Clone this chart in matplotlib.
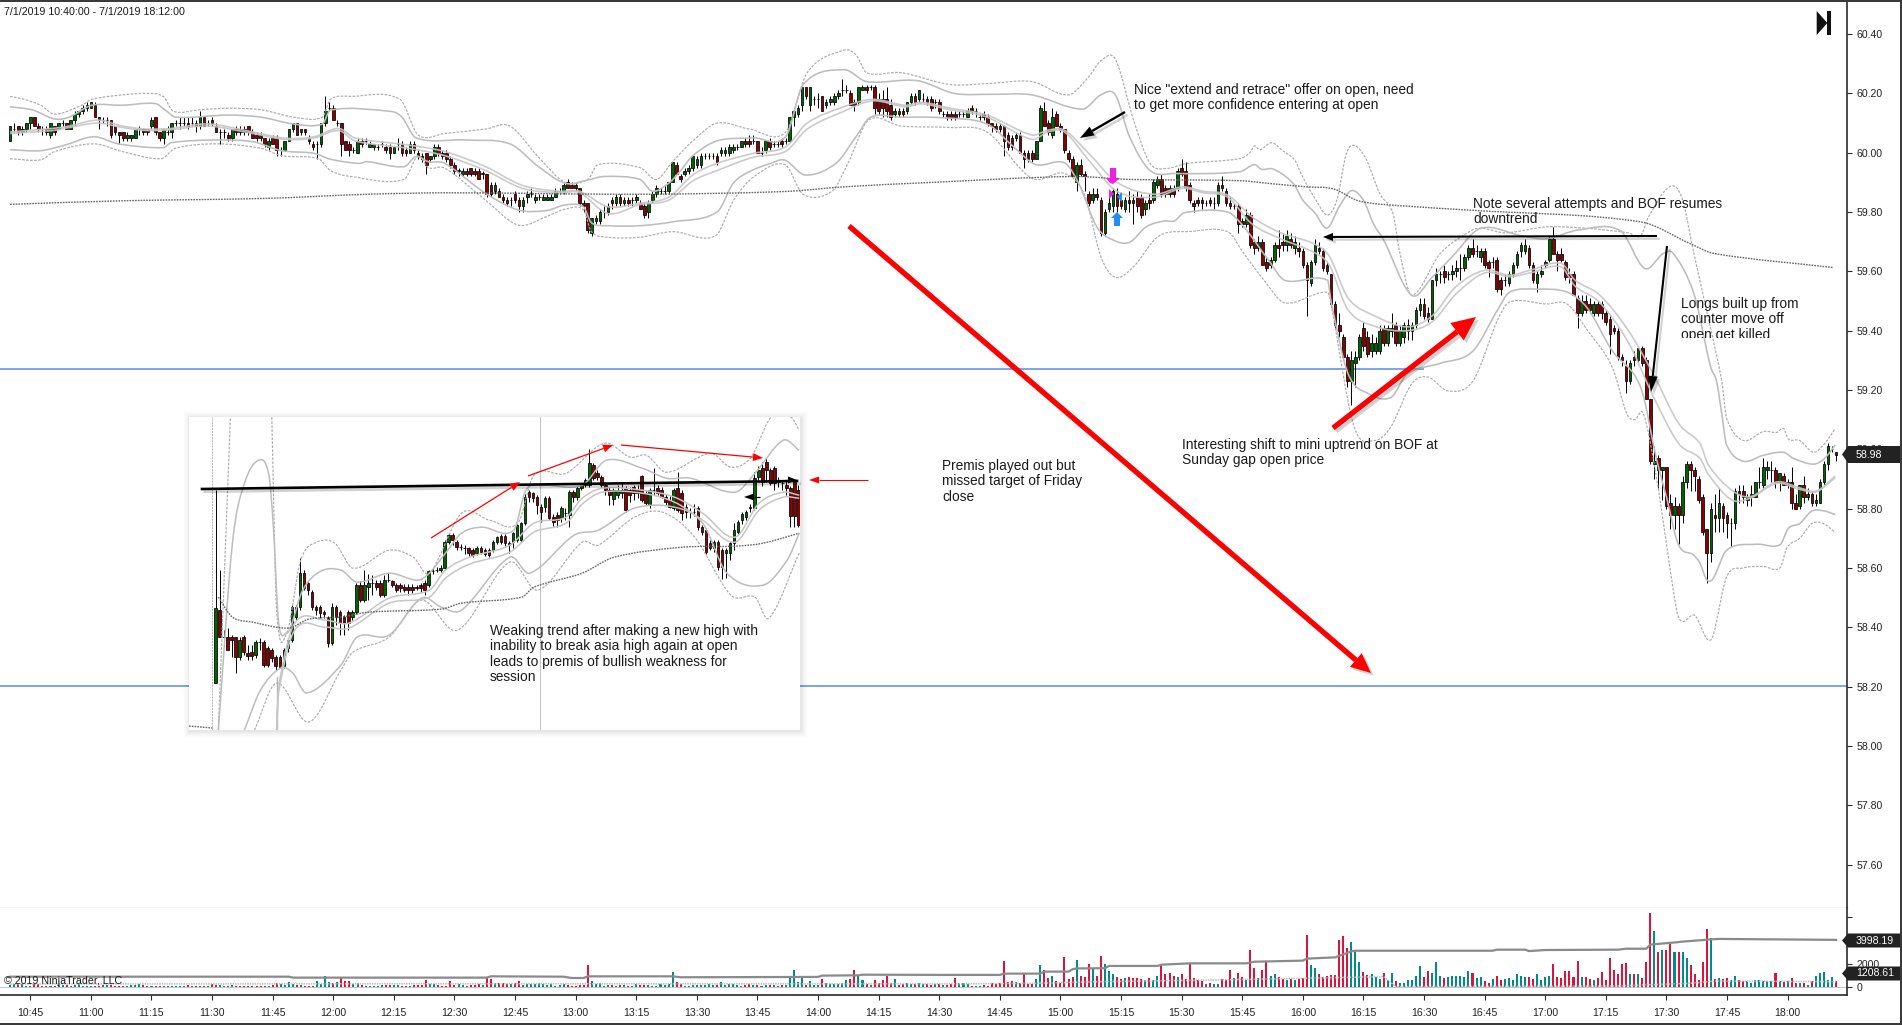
import matplotlib
matplotlib.use('Agg')
import matplotlib.pyplot as plt
import matplotlib.patheffects as pe
from matplotlib.patches import Polygon, Rectangle, PathPatch
from matplotlib.path import Path
from matplotlib.transforms import Bbox

plt.rcParams['font.family'] = ['Liberation Sans', 'DejaVu Sans']

W, H = 1902, 1025

# ---- one-minute bars, prices in cents ----
opens = [6004,6008,6009,6007,6008,6010,6012,6009,6008,6008,
6006,6009,6008,6010,6010,6008,6011,6013,6014,6015,
6015,6016,6012,6011,6011,6011,6009,6007,6007,6005,
6005,6005,6008,6008,6008,6009,6012,6007,6005,6007,
6007,6010,6010,6010,6010,6010,6010,6009,6012,6010,
6011,6009,6007,6007,6006,6005,6008,6008,6008,6009,
6007,6006,6006,6005,6002,6005,6005,6001,6001,6004,
6008,6010,6007,6008,6005,6003,6003,6003,6010,6015,
6015,6010,6010,6004,6003,6001,6000,6004,6004,6002,
6002,6002,6003,6002,6002,6000,6003,6003,6001,6000,
6003,6000,5999,6000,5998,5999,6002,6000,6000,5998,
5996,5994,5993,5994,5995,5994,5994,5993,5993,5989,
5987,5987,5985,5984,5984,5986,5984,5982,5985,5986,
5984,5985,5984,5984,5984,5985,5987,5987,5990,5989,
5989,5988,5983,5983,5973,5977,5977,5980,5980,5984,
5983,5985,5983,5984,5984,5984,5983,5982,5980,5984,
5986,5987,5987,5987,5990,5996,5992,5993,5994,5995,
5996,5996,5999,5999,5999,5999,6000,6000,6000,6001,
6002,6002,6004,6004,6004,
6004,6000,6001,6004,6003,6003,
6004,6004,6004,6012,6013,6016,6022,6016,6018,6018,
6019,6016,6017,6017,6019,6021,6021,6020,6017,6017,
6021,6022,6022,6022,6018,6018,6018,6016,6013,6014,
6014,6014,6017,6019,6018,6018,6018,6018,6017,6017,
6013,6013,6013,6013,6013,6013,6012,6015,6014,6012,
6013,6012,6010,6009,6009,6009,6006,6005,6005,6006,
6000,6000,6000,5998,6004,6014,6010,6006,6013,6009,
6008,6000,5998,5990,5996,5993,5986,5984,5986,5984,
5973,5981,5982,5986,5984,5981,5984,5984,5985,5985,
5981,5984,5984,5989,5991,5988,5988,5988,5988,5995,
5994,5989,5983,5984,5984,5983,5984,5983,5983,5989,
5987,5983,5982,5982,5977,5976,5979,5970,5968,5970,
5963,5962,5964,5969,5970,5969,5971,5968,5968,
5967,5962,5956,5963,5968,5967,5962,5959,5949,5942,
5938,5931,5923,5929,5931,5941,5938,5933,5933,5933,
5941,5936,5940,5942,5936,5938,5940,5940,5942,5947,
5949,5946,5944,5957,5959,5960,5959,5959,5960,5961,
5961,5965,5968,5967,5965,5967,5963,5963,5964,5957,
5957,5956,5959,5962,5967,5967,5968,5962,5956,5959,
5962,5964,5971,5966,5966,5963,5959,5959,5951,5946,
5950,5949,5946,5949,5949,5946,5944,5941,5940,5931,
5928,5923,5931,5930,5934,5930,
5917,5895,5897,5893,
5894,5882,5878,5881,5878,5889,5895,5893,5890,5884,
5873,5865,5878,5877,5881,5878,5875,5875,5886,5886,
5883,5884,5884,5889,5888,5893,5893,5893,5889,5891,
5888,5889,5882,5881,5888,5884,5885,5882,5882,5889,
5895,5900,5899]
closes = [6009,6008,6007,6008,6010,6012,6009,6008,6008,6007,
6010,6007,6010,6010,6008,6011,6013,6014,6015,6016,
6017,6012,6011,6011,6011,6006,6007,6006,6005,6006,
6006,6008,6008,6007,6007,6011,6007,6005,6008,6007,
6010,6010,6010,6010,6009,6010,6009,6012,6009,6010,
6010,6007,6007,6007,6005,6008,6007,6007,6007,6007,
6005,6005,6005,6003,6004,6003,6001,6001,6004,6008,
6010,6006,6008,6007,6004,6002,6003,6010,6014,6015,
6011,6010,6003,6001,6001,6001,6004,6003,6004,6003,
6003,6002,6003,6001,6000,6002,6003,6000,6000,6003,
6001,5999,5998,5996,5999,6002,6000,5999,5998,5996,
5994,5994,5994,5993,5993,5993,5991,5993,5986,5986,
5989,5985,5984,5983,5984,5984,5982,5984,5986,5986,
5985,5985,5985,5985,5985,5987,5987,5989,5988,5988,
5988,5983,5982,5974,5978,5978,5980,5980,5982,5983,
5985,5983,5984,5983,5984,5985,5981,5979,5983,5986,
5988,5987,5987,5990,5997,5993,5991,5994,5995,5999,
5998,5999,5999,5999,5999,5997,6001,6001,6002,6002,
6002,6004,6003,6003,6004,
6000,6000,6004,6002,6003,6003,
6003,6004,6012,6014,6015,6022,6019,6022,6018,6018,
6014,6017,6018,6019,6020,6021,6021,6016,6016,6022,
6022,6021,6022,6015,6014,6015,6014,6012,6014,6013,
6013,6017,6019,6017,6021,6018,6017,6015,6017,6014,
6013,6012,6012,6012,6013,6013,6014,6014,6014,6012,
6012,6010,6009,6008,6008,6004,6002,6002,6006,6000,
5998,5998,5998,6004,6015,6009,6007,6012,6009,6008,
6001,5998,5992,5996,5993,5992,5983,5986,5985,5973,
5980,5983,5987,5982,5982,5984,5983,5983,5982,5979,
5983,5983,5990,5991,5986,5986,5986,5986,5994,5993,
5988,5984,5982,5983,5983,5983,5983,5983,5989,5988,
5983,5982,5982,5976,5976,5979,5969,5968,5970,5962,
5961,5964,5969,5968,5969,5972,5969,5970,5967,
5962,5957,5963,5969,5967,5961,5960,5949,5942,5940,
5931,5923,5930,5931,5938,5935,5932,5936,5936,5940,
5936,5941,5941,5936,5940,5942,5942,5942,5947,5949,
5945,5944,5957,5959,5959,5958,5959,5960,5961,5961,
5965,5968,5966,5967,5967,5962,5961,5963,5954,5954,
5957,5959,5962,5966,5969,5969,5962,5957,5959,5960,
5963,5971,5966,5964,5964,5958,5958,5952,5946,5950,
5947,5947,5949,5946,5946,5943,5939,5940,5931,5930,
5923,5929,5930,5934,5929,5917,
5896,5896,5893,5894,
5881,5878,5881,5878,5889,5895,5893,5891,5883,5872,
5865,5880,5877,5882,5877,5875,5875,5886,5885,5884,
5884,5885,5889,5889,5894,5894,5893,5889,5892,5888,
5889,5882,5880,5888,5884,5885,5882,5883,5889,5895,
5901,5900,5898]
highs = [6009,6010,6009,6009,6010,6012,6012,6010,6009,6009,
6010,6009,6010,6011,6010,6011,6014,6014,6016,6017,
6017,6017,6012,6012,6012,6011,6009,6007,6007,6007,
6006,6008,6009,6008,6008,6012,6012,6007,6008,6009,
6010,6011,6012,6012,6012,6012,6011,6014,6012,6011,
6012,6010,6008,6008,6007,6008,6009,6009,6009,6009,
6008,6007,6007,6005,6005,6006,6006,6002,6004,6008,
6010,6010,6008,6008,6006,6004,6004,6010,6019,6017,
6016,6011,6010,6004,6004,6002,6005,6005,6005,6004,
6003,6003,6004,6003,6003,6002,6005,6004,6002,6004,
6004,6001,6000,6000,5999,6003,6003,6001,6001,5999,
5997,5995,5995,5995,5995,5995,5995,5994,5993,5990,
5990,5988,5986,5985,5985,5987,5985,5985,5987,5988,
5986,5986,5986,5986,5986,5988,5988,5990,5991,5990,
5990,5988,5984,5983,5978,5979,5981,5982,5983,5985,
5986,5986,5985,5985,5985,5986,5984,5983,5984,5987,
5989,5988,5989,5990,5997,5997,5993,5995,5996,5999,
5999,6000,6000,6000,6000,6000,6002,6002,6003,6003,
6003,6004,6005,6006,6006,
6004,6002,6004,6005,6004,6004,
6005,6005,6012,6015,6016,6022,6022,6022,6019,6020,
6019,6018,6019,6020,6021,6025,6023,6021,6018,6022,
6023,6023,6023,6023,6020,6021,6022,6018,6015,6015,
6015,6017,6020,6020,6021,6020,6019,6019,6018,6018,
6014,6014,6014,6014,6014,6014,6015,6016,6015,6013,
6014,6013,6010,6010,6010,6009,6007,6006,6007,6007,
6001,6001,6001,6004,6016,6017,6011,6015,6014,6010,
6008,6001,5999,5997,5998,5994,5987,5988,5988,5985,
5981,5985,5988,5988,5986,5985,5987,5986,5987,5986,
5984,5986,5991,5992,5993,5989,5989,5989,5995,5998,
5997,5990,5984,5985,5985,5984,5985,5985,5990,5992,
5988,5985,5983,5983,5978,5981,5980,5971,5972,5971,
5965,5965,5970,5974,5973,5974,5973,5972,5970,
5968,5963,5964,5971,5970,5968,5963,5959,5950,5946,
5939,5932,5933,5933,5939,5943,5940,5939,5938,5942,
5942,5942,5946,5943,5942,5943,5944,5943,5948,5951,
5951,5948,5957,5961,5960,5962,5960,5962,5964,5966,
5966,5969,5971,5969,5968,5968,5964,5965,5965,5958,
5959,5960,5963,5967,5970,5971,5969,5963,5960,5962,
5964,5972,5975,5967,5968,5964,5961,5960,5952,5952,
5952,5951,5950,5950,5950,5947,5945,5942,5941,5932,
5930,5930,5933,5934,5935,5931,
5917,5901,5898,5894,
5894,5885,5884,5882,5891,5896,5896,5894,5891,5885,
5873,5882,5885,5887,5882,5879,5877,5887,5888,5888,
5885,5888,5889,5894,5897,5896,5896,5894,5892,5892,
5890,5894,5885,5888,5891,5887,5886,5885,5890,5896,
5902,5901,5899]
lows = [6004,6007,6006,6006,6007,6008,6009,6007,6006,6006,
6005,6006,6008,6009,6008,6008,6009,6012,6013,6014,
6015,6012,6008,6010,6009,6005,6006,6003,6004,6004,
6004,6005,6006,6006,6006,6008,6006,6004,6003,6006,
6005,6009,6008,6009,6008,6009,6007,6008,6009,6009,
6009,6007,6003,6005,6004,6004,6006,6006,6006,6006,
6005,6004,6004,6002,6001,6003,5999,5999,6001,6004,
6007,6006,6006,6006,6003,6001,5998,6002,6009,6014,
6011,6009,5999,6001,5999,6000,6000,6002,6003,6002,
6001,6001,6002,6000,5998,6000,6001,5999,5999,6000,
6000,5998,5997,5993,5997,5998,5999,5998,5997,5995,
5993,5992,5992,5992,5992,5992,5991,5991,5985,5985,
5986,5985,5983,5982,5982,5983,5980,5980,5983,5985,
5983,5984,5984,5984,5984,5985,5986,5986,5988,5988,
5987,5982,5980,5973,5972,5976,5976,5978,5979,5981,
5982,5982,5982,5982,5982,5983,5981,5978,5978,5983,
5985,5986,5986,5986,5990,5993,5990,5992,5993,5994,
5995,5995,5998,5998,5998,5996,5999,5999,5999,6000,
6001,6002,6002,6002,6003,
6000,5999,6000,6001,6002,6002,
6002,6003,6004,6009,6012,6014,6018,6014,6016,6015,
6014,6015,6016,6016,6018,6019,6020,6016,6014,6016,
6021,6020,6021,6013,6013,6012,6012,6011,6012,6012,
6012,6013,6016,6016,6017,6017,6016,6014,6015,6013,
6012,6011,6011,6011,6012,6012,6012,6013,6012,6011,
6011,6009,6007,6007,6007,5999,6001,6001,6004,6000,
5995,5997,5997,5998,6004,6009,6006,6005,6009,6007,
6000,5997,5992,5987,5992,5987,5982,5983,5984,5972,
5972,5980,5980,5980,5981,5980,5980,5976,5980,5978,
5979,5981,5983,5988,5985,5985,5985,5985,5987,5992,
5987,5983,5980,5982,5981,5982,5982,5981,5982,5987,
5982,5981,5981,5973,5975,5975,5968,5966,5967,5962,
5960,5961,5963,5965,5967,5967,5968,5966,5965,
5961,5945,5955,5962,5966,5960,5959,5948,5941,5938,
5930,5921,5915,5921,5930,5933,5931,5931,5932,5932,
5935,5935,5938,5935,5935,5936,5937,5937,5941,5945,
5944,5943,5944,5955,5956,5956,5957,5957,5958,5957,
5960,5964,5965,5965,5963,5961,5958,5961,5953,5952,
5955,5955,5958,5961,5965,5966,5961,5956,5953,5958,
5961,5963,5966,5960,5963,5957,5956,5952,5941,5945,
5946,5946,5945,5945,5944,5942,5932,5939,5930,5928,
5919,5922,5928,5929,5928,5917,
5895,5890,5887,5883,
5880,5873,5873,5868,5875,5887,5886,5886,5882,5871,
5855,5862,5872,5872,5872,5870,5867,5873,5882,5882,
5881,5881,5884,5887,5887,5890,5889,5887,5886,5888,
5887,5880,5880,5880,5882,5883,5881,5881,5882,5888,
5893,5899,5896]
volumes = [200,250,300,250,150,100,300,250,120,150,100,120,160,200,220,
140,170,260,150,130,150,120,150,190,200,170,140,120,130,140,
160,180,240,180,120,90,110,140,100,120,140,110,90,110,160,
100,90,130,120,150,300,200,180,130,110,190,100,90,110,130,
120,90,110,150,120,180,340,280,200,450,300,180,160,140,120,
90,520,320,960,480,350,450,850,550,530,300,350,190,120,100,
100,120,170,200,230,210,180,120,110,150,220,200,200,650,300,
250,200,150,130,550,220,300,180,140,200,170,280,200,820,720,
400,350,360,280,300,350,530,230,300,320,280,330,280,210,250,
140,220,280,220,150,90,160,190,1900,520,300,400,150,160,180,
130,170,200,100,90,260,180,200,190,100,150,300,210,240,1300,
430,300,120,150,180,170,210,170,250,200,180,420,180,250,240,
180,130,200,240,200,160,130,160,230,200,120,190,170,960,1470,
450,800,200,540,170,180,700,340,280,300,320,400,620,680,1470,
960,640,250,170,620,380,640,960,400,680,200,280,350,300,280,
350,300,250,200,260,280,220,180,
300,750,400,350,250,150,100,120,200,150,400,300,380,2230,450,
500,480,400,1130,250,300,700,1890,1500,800,950,500,400,2600,700,
900,2300,1000,900,1970,1600,1000,2650,1970,1400,1100,850,700,800,900,
800,750,700,650,800,600,1000,1890,1100,1200,1000,900,1100,700,2030,
800,600,500,300,400,300,300,700,600,1470,800,1200,900,600,3160,
1600,800,1470,2170,1000,1100,900,700,600,700,600,700,800,4430,1900,
1650,1100,900,1000,1050,1050,4000,4340,3300,3835,3000,2170,1300,1050,1100,
900,700,1200,600,1200,500,400,350,600,600,1000,1800,900,1350,1200,
2140,1000,800,900,1000,950,1000,900,1400,1200,800,900,500,400,700,
1000,600,700,800,650,1100,1000,900,850,700,1100,600,900,1000,1970,
850,800,1400,1400,900,2230,900,900,700,600,800,1300,600,2450,1500,
1100,2000,2100,1100,1100,1100,800,2170,6300,4800,3000,3200,3200,3700,2950,
2950,3000,2500,1900,1100,650,2170,4900,4150,700,750,700,800,600,1000,
650,500,500,350,600,650,550,500,500,1200,500,450,500,800,400,350,400,200,500,1000,1200,1300,600,900,500]

# ---- band knots: (bar number, price in cents) ----
up2_x = [0,3.5,7.6,11,17.7,20.2,27.8,33.8,37.9,40.4,47,54,62.1,70.2,77.3,79.3,84.3,96.5,101,107.6,117.7,123.7,130.8,137.4,143,145.5,155.9,160,164,169,175,183,192,197.3,206.4,209.4,212,220.5,232.7,242.8,252.9,262,267,270,273.6,278.1,282.2,286.2,291.3,304.4,306.9,308,309.4,312.3,315,318,319.7,323,326,328.4,330.8,332.9,335.8,339,342.3,343.9,346.9,354,362,364.6,370.2,380.3,390.5,400.6,403.6,405.6,410.7,413.8,416.8,420.9,423.7,424.9,429,434,437.3,439,440.2,443,446.4,449.2,451.8]
up2_y = [6019,6018,6016,6013,6016,6018,6019.5,6020,6019,6014,6014.5,6015,6014.5,6012,6012,6018,6019,6018,6006,6006.5,6008,6009,5998.5,5990,5991,5996,5995,5991,5997,6004,6010,6008,6007,6027,6034.6,6033,6027,6027,6023,6023.4,6024,6019.5,6025.6,6031,6031.5,6011,5996.4,5994.7,5996.4,5998,6000,6002.3,6001,6003.4,6000.7,5997.5,5992.5,5984.6,5979,5984,5999.8,6002.4,5997.5,5986.3,5979.6,5967,5952,5966,5974,5974.5,5973,5975,5974.5,5973,5972,5978.4,5988.5,5985,5966,5941,5923,5910.5,5903,5906,5905.7,5907,5903.4,5903,5899,5902,5907]
up1_x = [0,5.6,11,14.6,20.2,27.8,35.9,38.4,41,54,62.1,70.2,77.3,79.3,94.4,97,100.5,112.6,123.7,130.8,137.4,143,147,155.9,159,163,166,169,175,184,192,196.3,206.4,212,224.6,233.7,242.8,252.9,265.5,270,273.6,277.1,282.2,288.2,304.4,308,309.8,312.7,317.6,320,323,326,329,332,335,337.5,340,346.9,352,357,364,374.2,380.3,388.4,398.6,404.6,409.2,411.7,416.8,420.9,422.4,423.7,424.9,429,434,439,441.4,446.4,449.2,451.8]
up1_y = [6015.5,6014.4,6011.4,6012,6016,6016,6016.6,6014.4,6012,6012.7,6012,6009.7,6009.7,6014.4,6013.9,6012,6005,6004.3,6003,5995.3,5989.7,5990.8,5992,5991,5987,5989.7,5994,5999,6004,6005,6005.4,6023,6028,6024,6024.3,6020,6019.7,6019.5,6014.7,6019.5,6019.5,6005.4,5994,5993,5993.6,5996,5994.4,5994.5,5989.7,5984,5979.7,5974.6,5981.8,5987.2,5984,5976,5970.6,5952,5958,5965,5974.5,5972,5971,5974,5973.7,5961,5966,5966,5952.5,5928,5923,5912,5901.5,5896,5898,5899,5897,5895,5897,5901.5]
lo1_x = [0,7.6,13.6,20.7,26.8,37.9,39.9,51,60.1,67.2,75.3,79.3,86.4,88.4,97.5,100.5,103.5,107.6,117.7,125.8,132.8,137.4,141.9,143.9,148,155.9,164,175,179,183,188.2,191.8,196.8,204.4,209.4,213,220.5,230.6,241.8,248.8,253.9,261,264.5,269,273,277.1,281.2,285.7,288.2,290.7,301.4,305.4,311.5,315.5,326.1,327.1,331.2,336.2,341.8,345.9,354,362,368.2,371.2,378.3,385.4,390.5,396.5,403.6,407.6,410,413,416.7,418.3,420,421.6,424.9,432.3,438.1,440.2,443,446,448.8,451.8]
lo1_y = [6001,6000.7,6002.6,6005.4,6003,6001.7,6003.4,6004.3,6003.7,6000.7,5999.8,5997.8,5996.4,5997,5995.3,5998.7,5997,5996.4,5986.3,5980.7,5980.5,5982.4,5981.8,5976.4,5975.4,5975.4,5976.7,5980,5989.7,5993.6,5996.4,5997.5,5992.5,5996.4,6005.4,6012,6012,6011.8,6009.7,6001.5,5996,5996.6,5989.7,5975,5970.6,5969.8,5975,5977,5977,5979.8,5980,5975,5963.8,5957,5957,5949,5925.5,5918.8,5917.5,5925.5,5929,5933,5947,5953,5954,5953,5947.5,5933.4,5921,5896.4,5884,5867.8,5864.4,5861.6,5856,5856.5,5866,5868,5867.8,5873.4,5875,5879.2,5879.3,5878]
lo2_x = [0,7.6,11,20.7,27.8,37.4,40.9,51,62.1,67.2,76.3,79.3,84.3,97.5,101,103.5,107.6,117.7,125.8,132.8,137.4,141.9,143.9,148,155.9,164,174.6,179.1,184.2,191.8,196.3,203.4,207.4,212.5,220.5,232.7,241.8,252.9,261,266,270,273.6,278.1,283.2,286.2,291.3,301.4,305.4,310.4,315.5,326.1,327.1,332.7,337.8,341.8,346.9,350.9,356,362.1,368.2,371.2,380.3,385.4,390.5,396.5,400.2,402.2,404.3,407.6,412.5,414,417,420.1,421.6,424.9,429,434,438.1,439.9,443,446,448.8,451.8]
lo2_y = [5998,5997.6,6000.4,6003,6000.4,5998,6001.5,6003,6001.5,5999,5998,5994,5992,5991,5999,5995,5994.8,5984,5975.6,5978.5,5981,5980.8,5973.4,5971.5,5971.5,5973.4,5972,5984,5992,5996,5986,5987,5996.4,6011,6009,6008.5,6007,5991.4,5993,5985.7,5965,5958,5961.6,5970.6,5973,5973.4,5973.4,5966,5957,5949.4,5953,5948,5907.6,5903,5907.6,5922,5924.4,5919.7,5923,5943.6,5949.7,5949,5949,5940,5928,5912,5910,5912,5890,5846,5842,5844,5836,5837.4,5857,5860,5860.5,5860,5867,5870,5875,5875,5872]
mid_x = [0,10.6,14.6,21.7,27.8,33.8,39.9,49,60.1,68.2,75.3,81.3,85.4,98.5,107.6,117.7,126.8,135.9,141,148,155.9,163,169,175,184,192,197.3,206.4,213.5,221.6,225.6,232.7,241.8,252.9,256.9,261,267,274,283.2,290.2,295.3,301.4,307.4,314.5,322.6,326.6,331.2,337.8,345.9,352,358,365.1,371.2,376.3,383.9,387.4,393.5,400.6,406.7,413,418.3,420.4,426.1,430.7,437.3,443,447.2,451.8]
mid1_y = [6007,6008.2,6009,6011,6009,6008,6008.2,6009.7,6007,6004.9,6005.4,6008.2,6005,6002.6,6000.4,5995.3,5989,5987,5987,5981.8,5983,5985,5992.5,5996.4,5999.8,6002,6010,6015.5,6018,6016,6017,6015,6012.7,6006,6007.6,6007.6,5999.8,5990,5986,5988.5,5987,5985.7,5978.4,5973,5969.4,5965,5951,5945,5941.3,5945,5955,5960.4,5958.7,5960.4,5962.7,5957,5952,5940,5925.5,5908.8,5902,5894.7,5886.3,5884,5889,5887,5886,5891]
mid2_y = [6006.5,6007.5,6008.5,6010,6008.5,6007.5,6007.8,6009,6006.5,6004.5,6005,6007.5,6004,6001.5,5999,5994,5988,5986.5,5986.5,5979.5,5982.5,5984,5990.5,5994,5998.5,6000.5,6008,6014,6017.5,6015.5,6016.5,6014.5,6012,6004.5,6007,6007,5997.5,5987,5985,5988,5986.5,5985,5976,5971,5966.5,5962,5947,5941.5,5940,5943,5952.5,5959.5,5958.2,5959.5,5961.5,5955,5949.5,5936,5918,5902,5897,5891.5,5883,5883.5,5888.5,5886.5,5885.7,5890.5]
slow_x = [0,27.8,63,88.4,108.6,155.9,191.3,206.4,226.6,263,277.1,304,312.7,321,327.6,334,345.7,362,403.6,415.8,421.9,451.2]
slow_y = [5982.6,5983.8,5984.6,5986,5986.5,5986,5986.9,5988.5,5989.9,5992,5991,5990.6,5989.5,5988.5,5987.8,5983.7,5982,5980.6,5976.7,5969.4,5966,5961.3]

# volume averages (bar number, contracts)
vslow_x = [0,69,70,118,119,137,139,142,143,164,166,200,201,210,211,233,245,246,255,256,262,263,264,271,272,284,285,292,306,308,320,321,328,332,333,367,368,375,376,380,398,400,405,406,413,413.5,422,423,452]
vslow_y = [900,900,820,820,930,900,790,790,930,930,850,880,990,1015,1070,1050,1050,1160,1160,1330,1330,1530,1600,1620,1810,1810,1920,2030,2030,2170,2260,2430,2540,3050,3100,3100,3190,3190,3070,3160,3190,3270,3270,3620,3830,3860,4080,4100,4020]
vfast_x = [0,100,233,254,270,298,340,343,396,416,422,452]
vfast_y = [280,300,290,340,480,620,900,60,100,340,530,480]

price_ticks = [57.6,57.8,58.0,58.2,58.4,58.6,58.8,59.0,59.2,59.4,59.6,59.8,60.0,60.2,60.4]
time_ticks = list(range(5, 441, 15))
time_labels = ['10:45','11:00','11:15','11:30','11:45','12:00','12:15','12:30','12:45','13:00','13:15','13:30','13:45','14:00','14:15','14:30','14:45','15:00','15:15','15:30','15:45','16:00','16:15','16:30','16:45','17:00','17:15','17:30','17:45','18:00']
vol_ticks = [0, 2000, 4000, 6000]
vol_labels = ['0', '2000', '4000', '']

# ---- pasted inset chart (own scale) ----
in_o = [47,120,93,93,93,93,73,93,77,78,75,88,88,82,80,73,73,64,82,90,113,123,157,147,138,123,123,118,112,87,
123,118,113,118,113,118,145,130,143,147,147,147,135,150,149,145,145,143,143,143,143,145,147,145,159,160,160,162,188,195,
188,183,182,182,180,177,182,180,180,180,188,194,194,187,188,190,190,207,238,237,233,223,223,232,213,215,212,217,215,238,
233,242,245,245,265,257,253,245,240,231,235,237,242,240,243,240,254,237,225,240,242,240,233,230,222,242,237,223,218,218,
222,203,200,187,182,188,180,177,177,187,198,210,213,222,222,253,262,268,260,262,250,247,245,242,248,240]
in_c = [122,93,93,80,90,73,90,78,74,74,88,88,65,65,72,64,63,80,90,123,123,157,142,140,123,120,117,116,87,123,
113,107,107,107,118,145,130,145,147,147,143,135,150,150,145,140,142,140,140,140,142,142,140,159,159,160,162,188,195,190,
183,183,182,177,175,182,178,176,175,188,193,188,187,185,197,205,207,233,233,232,225,218,232,212,208,210,222,217,238,233,
242,245,250,267,252,253,245,240,235,240,240,240,220,235,237,237,230,227,240,240,237,233,228,223,240,220,217,218,218,218,
203,198,178,182,188,163,163,180,187,200,208,216,218,223,252,260,248,260,247,247,248,247,242,214,214,205]
in_h = [240,160,100,102,95,93,93,95,85,85,90,92,90,84,82,75,75,82,92,125,125,172,160,149,140,125,125,120,114,127,
125,120,115,120,120,147,149,160,156,155,150,150,155,157,150,147,147,146,146,146,145,147,150,160,162,163,165,190,197,197,
190,186,185,183,182,184,184,182,182,190,194,196,196,189,198,206,208,236,240,238,235,226,234,234,216,218,224,222,240,240,
244,247,252,281,267,260,255,248,243,242,245,247,244,243,245,245,255,240,242,262,245,243,236,234,242,258,240,226,222,226,
224,205,202,190,190,190,182,182,189,207,210,218,220,226,258,264,268,272,262,264,253,250,250,244,250,245]
in_l = [47,93,87,80,73,57,70,75,70,70,72,80,63,63,68,60,62,62,78,88,110,120,140,135,120,115,112,112,83,85,
105,95,95,100,110,116,128,128,130,135,140,133,133,148,143,138,138,138,135,137,140,138,135,143,156,158,158,160,186,185,
180,180,176,174,173,175,176,174,173,178,186,186,184,177,182,188,188,205,228,228,216,208,218,210,204,203,208,210,203,228,
230,240,243,243,250,250,243,235,225,225,232,232,218,228,230,232,228,225,222,235,235,232,225,222,220,218,210,212,212,214,
200,195,176,180,178,160,151,152,170,180,196,206,210,218,220,250,244,248,245,240,243,240,235,203,203,203]
in_slow_x = [.7,4.2,9.2,18.2,23.2,31.2,38.2,56.2,61.2,76.2,79.2,91.2,99.2,116.2,129.2,136.2,145.2]
in_slow_y = [133,113,108,102,111,113,118,121,127,133,143,157,173,183,184,187,197]
in_up1_x = [.7,4.2,7.2,10.7,13.2,14.4,15.7,17.7,18.7,21.7,26.2,31.2,35.2,43.2,50.2,53.2,57.2,61.2,66.2,74.2,77.2,81.2,91.2,97.2,106.2,112.2,118.2,129.2,134.2,141.2,145.2]
in_up1_y = [0,187,247,270,257,203,107,97,103,140,159,160,148,157,150,157,177,197,203,200,240,245,245,270,262,252,252,238,257,290,280]
in_up2_x = [14,15.2,17.7,21.2,25.2,29.7,34.2,43.2,49.2,53.2,61.2,68.2,75.2,79.2,87.2,96.7,103.2,107.2,112.2,123.2,128.2,133.2,138.2,143.2,145.2]
in_up2_y = [313,120,97,170,188,187,162,180,173,157,217,210,207,255,257,287,273,275,258,277,263,273,313,313,300]
in_lo1_x = [7.2,11.2,16.2,19.2,22.7,31.2,35.2,43.2,51.2,56.2,61.2,73.2,78.2,89.2,95.2,104.2,114.2,121.2,127.2,136.2,142.2,145.2]
in_lo1_y = [0,40,62,57,37,65,93,95,132,123,120,173,157,195,200,222,223,207,157,145,170,197]
in_lo2_x = [9.7,15.2,23.2,31.2,34.2,43.2,51.2,60.2,73.2,80.2,91.2,95.2,104.2,111.2,119.2,128.2,134.2,137.7,145.2]
in_lo2_y = [0,47,8,60,78,93,130,100,168,140,188,185,213,218,193,135,133,112,177]
in_mid_x = [15.2,15.7,19.7,27.2,33.2,43.2,53.2,57.2,63.2,73.2,79.2,87.2,91.2,96.2,106.2,114.2,121.2,129.2,135.2,141.2,145.2]
in_mid1_y = [0,43,107,110,107,132,140,160,173,185,207,213,232,242,240,233,217,193,227,238,235]
in_mid2_y = [0,38,100,103,102,127,133,152,166,178,198,207,226,238,237,228,210,188,220,233,232]

UP, DOWN = '#006400', '#8B0000'
SOLID, MID, DASH, SLOW = '#BDBDBD', '#C6C6C6', '#ABABAB', '#666666'
DARK = '#2B2B2B'
TXT = '#1a1a1a'
BLUE = '#6495ED'
DASHED = (0, (2.2, 1.2))
DOTTED = (0, (1.2, 0.8))


def px_axes(x0, y0, x1, y1, **kw):
    return fig.add_axes([x0 / W, 1 - y1 / H, (x1 - x0) / W, (y1 - y0) / H], **kw)


def curve(ax, xs, ys, color, lw, ls='-', zorder=5, alpha=1.0):
    """Draw the knots as one smooth Bezier stroke through them."""
    n = len(xs)
    slopes = []
    for k in range(n):
        a, b = max(k - 1, 0), min(k + 1, n - 1)
        slopes.append((ys[b] - ys[a]) / (xs[b] - xs[a]))
    verts, codes = [(xs[0], ys[0])], [Path.MOVETO]
    for k in range(n - 1):
        h = (xs[k + 1] - xs[k]) / 3
        verts += [(xs[k] + h, ys[k] + slopes[k] * h), (xs[k + 1] - h, ys[k + 1] - slopes[k + 1] * h), (xs[k + 1], ys[k + 1])]
        codes += [Path.CURVE4] * 3
    ax.add_patch(PathPatch(Path(verts, codes), fill=False, edgecolor=color, lw=lw, ls=ls, zorder=zorder, alpha=alpha))


def candles(ax, o, c, h, l, min_body, width=0.66, wick=0.7, edge=0.55):
    n = min(len(o), len(c), len(h), len(l))
    xs = range(n)
    ax.vlines(xs, l[:n], h[:n], colors='black', linewidth=wick, zorder=3)
    colors = [UP if c[i] >= o[i] else DOWN for i in xs]
    bottoms = [min(o[i], c[i]) for i in xs]
    heights = [max(abs(c[i] - o[i]), min_body) for i in xs]
    ax.bar(xs, heights, bottom=bottoms, width=width, color=colors, edgecolor='black', linewidth=edge, zorder=4)


fig = plt.figure(figsize=(W / 100, H / 100), dpi=100, facecolor='white')

# ---- price panel ----
ax_p = px_axes(0, 0, 1847, 908, zorder=1)
ax_p.set_xlim(-2.5, 454.7)
ax_p.set_ylim(57.4535, 60.515)
P = lambda seq: [v / 100 for v in seq]
ax_p.hlines(59.27, -2.5, 350, color=BLUE, lw=1.2, zorder=2)
ax_p.hlines(58.202, -2.5, 454.7, color=BLUE, lw=1.2, zorder=2)
candles(ax_p, P(opens), P(closes), P(highs), P(lows), 0.0002)
curve(ax_p, up2_x, P(up2_y), DASH, 0.85, DASHED)
curve(ax_p, lo2_x, P(lo2_y), DASH, 0.85, DASHED)
curve(ax_p, up1_x, P(up1_y), SOLID, 1.15)
curve(ax_p, lo1_x, P(lo1_y), SOLID, 1.15)
curve(ax_p, mid_x, P(mid1_y), MID, 1.2, alpha=.9)
curve(ax_p, mid_x, P(mid2_y), MID, 1.2, alpha=.9)
curve(ax_p, slow_x, P(slow_y), SLOW, 1.0, DOTTED)
ax_p.yaxis.tick_right()
ax_p.set_yticks(price_ticks)
ax_p.set_yticklabels(['%.2f' % t for t in price_ticks], fontsize=7.6, color='#222222')
ax_p.tick_params(axis='y', length=3.5, width=.8, color=DARK, pad=3.5)
ax_p.set_xticks([])
for s in ('top', 'left'):
    ax_p.spines[s].set_visible(False)
ax_p.spines['right'].set_color(DARK)
ax_p.spines['right'].set_linewidth(1.2)
ax_p.spines['bottom'].set_color('#C8C8C8')
ax_p.spines['bottom'].set_linewidth(1.0)

# ---- volume panel ----
ax_v = px_axes(0, 908, 1847, 995, zorder=1)
ax_v.set_xlim(-2.5, 454.7)
ax_v.set_ylim(-652, 6721)
nv = min(len(volumes), len(opens), len(closes))
ax_v.bar(range(nv), volumes[:nv], width=0.5,
         color=['#008B8B' if closes[i] >= opens[i] else '#DC143C' for i in range(nv)], zorder=2)
ax_v.axhline(0, color='#BBBBBB', lw=.6, zorder=1)
ax_v.plot(vfast_x, vfast_y, color='#BDBDBD', lw=1.1, ls=(0, (1, .6)), zorder=3)
ax_v.plot(vslow_x, vslow_y, color='#8A8A8A', lw=1.6, zorder=3)
ax_v.yaxis.tick_right()
ax_v.set_yticks(vol_ticks)
ax_v.set_yticklabels(vol_labels, fontsize=7.6, color='#222222')
ax_v.tick_params(axis='y', length=3.5, width=.8, color=DARK, pad=3.5)
ax_v.set_xticks(time_ticks)
ax_v.set_xticklabels(time_labels, fontsize=7.6, color='#222222')
ax_v.tick_params(axis='x', length=3.6, width=.8, color=DARK, pad=5.5)
for s in ('top', 'left'):
    ax_v.spines[s].set_visible(False)
for s in ('right', 'bottom'):
    ax_v.spines[s].set_color(DARK)
    ax_v.spines[s].set_linewidth(1.2)

# ---- inset with drop shadow ----
ix0, iy0, ix1, iy1 = 189, 417, 800, 730
for k, a in zip(range(7, 0, -1), (.006, .008, .01, .012, .016, .02, .025)):
    fig.add_artist(Rectangle(((ix0 - k + 1) / W, 1 - (iy1 + k + 1) / H), (ix1 - ix0 + 2 * k) / W, (iy1 - iy0 + 2 * k) / H,
                             transform=fig.transFigure, facecolor='black', alpha=a, edgecolor='none', zorder=4))
ax_i = px_axes(ix0, iy0, ix1, iy1, zorder=5)
ax_i.set_xlim(-6.6, 145.4)
ax_i.set_ylim(0, 313.3)
ax_i.axvline(80.7, color='#C4C4C4', lw=.8, zorder=1)
ax_i.axvline(-0.8, color='#B5B5B5', lw=.7, ls=(0, (2, 1)), zorder=1)
ax_i.axvline(15.2, ymax=0.17, color='#B5B5B5', lw=1.0, zorder=1)
ax_i.plot([.7, 3.7], [0, 313], color=DASH, lw=.85, ls=DASHED, zorder=5)
candles(ax_i, in_o, in_c, in_h, in_l, 0.3)
curve(ax_i, in_up2_x, in_up2_y, DASH, .85, DASHED)
curve(ax_i, in_lo2_x, in_lo2_y, DASH, .85, DASHED)
curve(ax_i, in_up1_x, in_up1_y, SOLID, 1.1)
curve(ax_i, in_lo1_x, in_lo1_y, SOLID, 1.1)
curve(ax_i, in_mid_x, in_mid1_y, MID, 1.1)
curve(ax_i, in_mid_x, in_mid2_y, MID, 1.1)
curve(ax_i, in_slow_x, in_slow_y, SLOW, 1.0, DOTTED)
ax_i.plot([-6.6, -0.8], [4, 2], color=SLOW, lw=1.0, ls=DOTTED, zorder=5)
ax_i.set_xticks([])
ax_i.set_yticks([])
for s in ax_i.spines.values():
    s.set_visible(False)

# ---- annotation layer in pixels ----
ov = fig.add_axes([0, 0, 1, 1], zorder=10)
ov.set_xlim(0, W)
ov.set_ylim(H, 0)
ov.axis('off')
ov.patch.set_alpha(0)


def arrow(x0, y0, x1, y1, color, lw, hl, hw, shadow=True):
    d = ((x1 - x0) ** 2 + (y1 - y0) ** 2) ** .5
    ux, uy = (x1 - x0) / d, (y1 - y0) / d
    bx, by = x1 - ux * hl, y1 - uy * hl
    nx, ny = -uy, ux
    fx = [pe.SimpleLineShadow(offset=(2, -2), alpha=.18, shadow_color='black'), pe.Normal()] if shadow else None
    ov.plot([x0, bx], [y0, by], color=color, lw=lw, solid_capstyle='butt', path_effects=fx, zorder=3)
    poly = Polygon([(x1, y1), (bx + nx * hw / 2, by + ny * hw / 2), (bx - nx * hw / 2, by - ny * hw / 2)],
                   closed=True, facecolor=color, edgecolor='none', zorder=3)
    if shadow:
        poly.set_path_effects([pe.withSimplePatchShadow(offset=(2, -2), alpha=.18, shadow_rgbFace='black')])
    ov.add_patch(poly)


arrow(849, 226, 1371, 673, '#FF0000', 3.8, 20, 18)
arrow(1333, 428, 1476, 317, '#FF0000', 3.8, 24, 22)
arrow(1125, 112, 1080, 138, '#000000', 1.7, 14, 10)
arrow(1657, 236, 1323, 237, '#000000', 1.5, 10, 8)
arrow(1667, 246, 1651, 392, '#000000', 1.5, 16, 10)
ov.plot([202, 797], [489, 481], color='black', lw=1.9, zorder=3,
        path_effects=[pe.SimpleLineShadow(offset=(2, -2), alpha=.18, shadow_color='black'), pe.Normal()])
arrow(431, 538, 520, 482, '#FF0000', .9, 10, 8, shadow=False)
arrow(528, 476, 613, 445, '#FF0000', .9, 10, 8, shadow=False)
arrow(621, 445, 763, 458, '#FF0000', .9, 10, 8, shadow=False)
arrow(868, 480, 809, 480, '#FF0000', .8, 10, 7, shadow=False)
arrow(760, 497, 744, 497, 'black', .9, 10, 7, shadow=False)
arrow(785, 480, 797, 480, 'black', .9, 9, 7, shadow=False)

# magenta / blue trade markers
ov.add_patch(Polygon([(1110, 183), (1106, 178), (1110, 178), (1110, 168), (1116, 168), (1116, 178), (1120, 178), (1113, 184)],
                     facecolor='#F020E0', edgecolor='none', zorder=3))
ov.add_patch(Polygon([(1117, 212), (1123, 218), (1120, 218), (1120, 226), (1114, 226), (1114, 218), (1111, 218)],
                     facecolor='#2090F0', edgecolor='none', zorder=3))
ov.add_patch(Polygon([(1109, 189), (1109, 199), (1114, 194)], facecolor='#F020E0', edgecolor='none', zorder=3))
ov.add_patch(Polygon([(1122, 192), (1122, 202), (1117, 197)], facecolor='#2090F0', edgecolor='none', zorder=3))

# right-hand value tags
for (yc, ht, left, label) in [(454.5, 8.5, 1848, '58.98'), (940.5, 7, 1848, '3998.19'), (973.5, 7, 1848, '1208.61')]:
    ov.add_patch(Polygon([(left - 6, yc), (left, yc - ht), (1900, yc - ht), (1900, yc + ht), (left, yc + ht)],
                         facecolor='#222222', edgecolor='none', zorder=4))
    ov.text(1875 if len(label) > 5 else 1869, yc, label, color='white', fontsize=7.6, ha='center', va='center', zorder=5)

# play-forward glyph
ov.add_patch(Polygon([(1816.7, 11), (1827.3, 23), (1816.7, 35)], facecolor='#111111', edgecolor='none', zorder=4))
ov.add_patch(Rectangle((1827.3, 11), 3.8, 24, facecolor='#111111', edgecolor='none', zorder=4))

# frame
ov.add_patch(Rectangle((0, 0), W, 1.6, facecolor='#3A3A3A', edgecolor='none', zorder=4))
ov.add_patch(Rectangle((0, 1023.4), W, 1.6, facecolor='#3A3A3A', edgecolor='none', zorder=4))
ov.add_patch(Rectangle((1900.4, 0), 1.6, H, facecolor='#3A3A3A', edgecolor='none', zorder=4))

FS = 9.9
STEP = 15.4


def block(x, y, lines, clip=None):
    for n, s in enumerate(lines):
        t = ov.text(x, y + n * STEP, s, fontsize=FS, color=TXT, ha='left', va='center', zorder=6)
        if clip is not None:
            t.set_clip_on(True)
            t.set_clip_box(Bbox([[0, H - clip], [W, H]]))


block(1134, 90, ['Nice "extend and retrace" offer on open, need', 'to get more confidence entering at open'])
block(1473, 204, ['Note several attempts and BOF resumes', 'downtrend'])
block(1681, 304, ['Longs built up from', 'counter move off', 'open get killed'], clip=338)
block(1182, 445, ['Interesting shift to mini uptrend on BOF at', 'Sunday gap open price'])
block(942, 466, ['Premis played out but', 'missed target of Friday', 'close'])
block(490, 631, ['Weaking trend after making a new high with', 'inability to break asia high again at open',
                 'leads to premis of bullish weakness for', 'session'])
ov.text(4, 12, '7/1/2019 10:40:00 - 7/1/2019 18:12:00', fontsize=7.65, color=TXT, ha='left', va='center', zorder=6)
ov.text(4, 981, '\u00a9 2019 NinjaTrader, LLC', fontsize=7.65, color=TXT, ha='left', va='center', zorder=6)

fig.savefig('out.png', dpi=100, facecolor='white')
